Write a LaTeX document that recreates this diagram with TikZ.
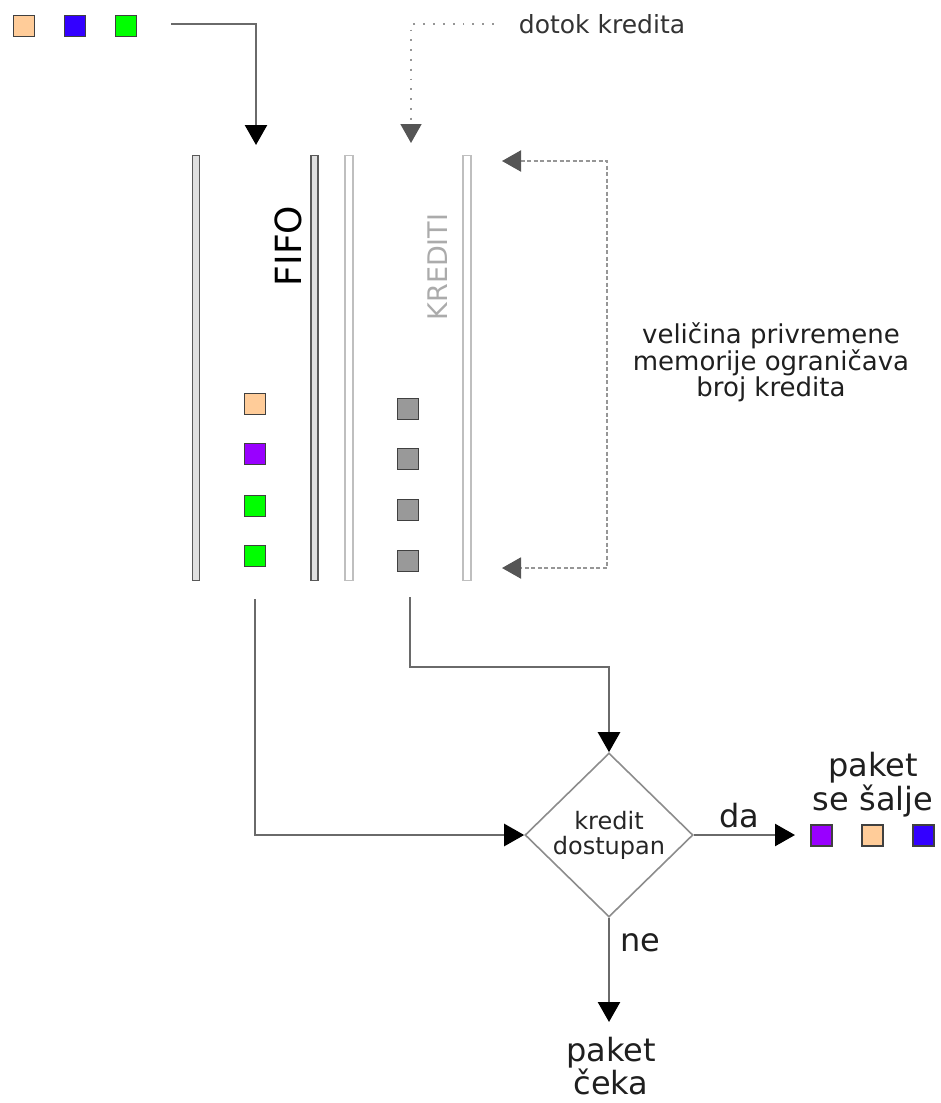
\documentclass[tikz,border=0pt]{standalone}
\usepackage{fontspec}
\setmainfont{DejaVu Sans}
\usetikzlibrary{arrows.meta,shapes.geometric}
\definecolor{peach}{HTML}{FFCC99}
\definecolor{pblue}{HTML}{3300FF}
\definecolor{pgreen}{HTML}{00FF00}
\definecolor{ppurple}{HTML}{9900FF}
\definecolor{pgray}{HTML}{999999}
\definecolor{linegray}{HTML}{6A6A6A}
\definecolor{darkhead}{HTML}{555555}
\definecolor{lightline}{HTML}{969696}
\tikzset{
  pk/.style={draw=black!75, line width=1.4pt, minimum size=21pt, inner sep=0pt},
  darkbar/.style={draw=black!65, fill=black!12, line width=1.6pt, minimum width=7pt, minimum height=425pt, inner sep=0pt},
  lightbar/.style={draw=black!25, fill=white, line width=1.6pt, minimum width=8pt, minimum height=425pt, inner sep=0pt},
  conn/.style={draw=linegray, line width=2.5pt, -{Triangle[length=20pt,width=22pt,fill=black,color=black]}},
  dotconn/.style={draw=lightline, line width=1.8pt, dash pattern=on 1.8pt off 8pt, -{Triangle[length=19pt,width=21pt,fill=darkhead,color=darkhead]}},
  dashconn/.style={draw=lightline, line width=2pt, dash pattern=on 4pt off 2.5pt, {Triangle[length=19pt,width=21pt,fill=darkhead,color=darkhead]}-{Triangle[length=19pt,width=21pt,fill=darkhead,color=darkhead]}},
  txt/.style={inner sep=0pt, align=center, text=black!88},
}
\begin{document}
\begin{tikzpicture}[x=1pt,y=-1pt]
\useasboundingbox (0,0) rectangle (941,1103);
% incoming packets
\node[pk, fill=peach] (i1) at (24,26) {};
\node[pk, fill=pblue] (i2) at (75,26) {};
\node[pk, fill=pgreen] (i3) at (126,26) {};
\coordinate (inStart) at (171,24);
\coordinate (fifoIn) at (256,145);
\draw[conn] (inStart) -| (fifoIn);
% credit inflow
\node[txt, font=\fontsize{25}{25}\selectfont, text=black!80] (dotok) at (602,24) {dotok kredita};
\coordinate (credIn) at (411,143);
\draw[dotconn] ([xshift=-25pt]dotok.west) -| (credIn);
% bars
\node[darkbar] (b1) at (196,368) {};
\node[darkbar] (b2) at (314.5,368) {};
\node[lightbar] (b3) at (349,368) {};
\node[lightbar] (b4) at (467,368) {};
\node[txt, rotate=90, font=\fontsize{36}{36}\selectfont, text=black] (fifo) at (288,246) {FIFO};
\node[txt, rotate=90, font=\fontsize{27}{27}\selectfont, text=black!33] (kred) at (438,267) {KREDITI};
% queue packets
\node[pk, fill=peach] (q1) at (255,404) {};
\node[pk, fill=ppurple] (q2) at (255,454) {};
\node[pk, fill=pgreen] (q3) at (255,506) {};
\node[pk, fill=pgreen] (q4) at (255,556) {};
\node[pk, fill=pgray] (c1) at (408,409) {};
\node[pk, fill=pgray] (c2) at (408,459) {};
\node[pk, fill=pgray] (c3) at (408,510) {};
\node[pk, fill=pgray] (c4) at (408,561) {};
% buffer size loop
\coordinate (lt) at (502,161);
\coordinate (ltc) at (607,161);
\coordinate (lbc) at (607,568);
\coordinate (lb) at (502,568);
\draw[dashconn] (lt) -- (ltc) -- (lbc) -- (lb);
\node[txt, font=\fontsize{26}{26}\selectfont] (vel) at (771,362) {veličina privremene\\memorije ograničava\\broj kredita};
% decision
\node[draw=black!45, line width=1.6pt, shape=diamond, minimum width=168pt, minimum height=164pt, inner sep=-3pt, align=center, text=black!85, font=\fontsize{24}{25}\selectfont] (dia) at (609,835) {kredit\\dostupan};
\coordinate (fifoOut) at (255,599);
\draw[conn] (fifoOut) |- (dia.west);
\coordinate (credOut) at (410,597);
\coordinate (credBend) at (410,667);
\draw[conn] (credOut) -- (credBend) -| (dia.north);
% yes
\coordinate (yesTip) at (795,835);
\draw[conn] (dia.east) -- (yesTip) node[pos=0.45, above=6pt, txt, font=\fontsize{32}{32}\selectfont] (da) {da};
\node[pk, fill=ppurple] (o1) at (821.5,835.5) {};
\node[pk, fill=peach] (o2) at (872.5,835.5) {};
\node[pk, fill=pblue] (o3) at (923.5,835.5) {};
\node[txt, font=\fontsize{32}{34}\selectfont] (salje) at (873,785) {paket\\se šalje};
% no
\coordinate (noTip) at (609,1022);
\draw[conn] (dia.south) -- (noTip);
\node[txt, font=\fontsize{32}{32}\selectfont] (ne) at (640,943) {ne};
\node[txt, font=\fontsize{32}{32}\selectfont] (ceka) at (611,1066) {paket\\čeka};
\end{tikzpicture}
\end{document}
